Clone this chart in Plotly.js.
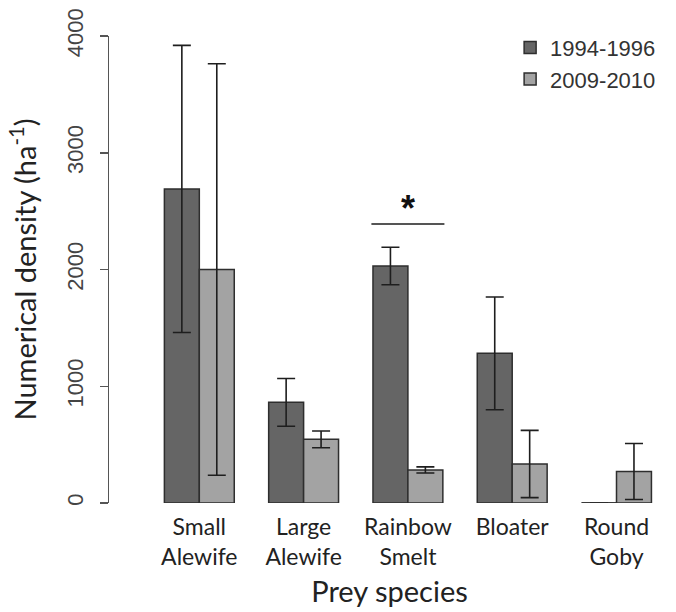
<!DOCTYPE html>
<html>
<head>
<meta charset="utf-8">
<script src="https://cdn.plot.ly/plotly-3.0.1.min.js"></script>
<style>html,body{margin:0;padding:0;background:#fff;}#chart{width:676px;height:612px;}</style>
</head>
<body>
<div id="chart"></div>
<script>
// ---- data ----
const categories = ["Small<br>Alewife", "Large<br>Alewife", "Rainbow<br>Smelt", "Bloater", "Round<br>Goby"];
const seriesNames = ["1994-1996", "2009-2010"];
const early = [2690, 862, 2030, 1282, 0];
const earlyErr = [1230, 205, 160, 483, 0];
const late = [2000, 545, 283, 334, 270];
const lateErr = [1762, 72, 26, 288, 240];
const yTicks = [0, 1000, 2000, 3000, 4000];
const sigCategory = 2;      // Rainbow Smelt
const sigLineY = 2390;
const sigStarY = 2520;
const sigLabel = "*";

// ---- styles ----
const bargap = 0.33;
const barHalf = (1 - bargap) / 2;
const darkFill = "#656565";
const lightFill = "#a3a3a3";
const outline = "#2e2e2e";

const errStyle = (arr) => ({type: "data", array: arr, visible: true, color: "#1e1e1e", thickness: 1.6, width: 9});

const traces = [
  {type: "bar", name: seriesNames[0], x: categories, y: early, error_y: errStyle(earlyErr),
   marker: {color: darkFill, line: {color: outline, width: 1.5}}},
  {type: "bar", name: seriesNames[1], x: categories, y: late, error_y: errStyle(lateErr),
   marker: {color: lightFill, line: {color: outline, width: 1.5}}}
];

const shapes = [];
// zero-height bars drawn as a baseline segment
early.forEach((v, i) => { if (v === 0) shapes.push({type: "line", xref: "x", yref: "y", x0: i - barHalf, x1: i, y0: v, y1: v, line: {color: outline, width: 1.5}}); });
late.forEach((v, i) => { if (v === 0) shapes.push({type: "line", xref: "x", yref: "y", x0: i, x1: i + barHalf, y0: v, y1: v, line: {color: outline, width: 1.5}}); });
// significance line
shapes.push({type: "line", xref: "x", yref: "y", x0: sigCategory - barHalf - 0.015, x1: sigCategory + barHalf + 0.015,
  y0: sigLineY, y1: sigLineY, line: {color: "#555", width: 2}});

const layout = {
  width: 676, height: 612,
  margin: {l: 109, r: 6, t: 36, b: 109},
  paper_bgcolor: "#fff", plot_bgcolor: "#fff",
  barmode: "group", bargap: bargap, bargroupgap: 0,
  showlegend: true,
  legend: {x: 0.715, xanchor: "left", y: 1.02, yanchor: "top", bgcolor: "rgba(0,0,0,0)",
           font: {family: "Liberation Sans, Arial, sans-serif", size: 22, color: "#333"},
           tracegroupgap: 0, itemwidth: 30},
  xaxis: {
    type: "category", range: [-0.866, 4.513], showline: false, showgrid: false, zeroline: false,
    ticks: "", ticklabelstandoff: 8, tickfont: {family: "Lato, sans-serif", size: 23, color: "#222"},
    title: {text: "Prey species", font: {family: "Lato, sans-serif", size: 29, color: "#222"}, standoff: 12},
    automargin: false
  },
  yaxis: {
    range: [0, 4000], tickvals: yTicks, ticktext: yTicks.map(String), showline: true, linecolor: "#555", linewidth: 1.5,
    ticks: "outside", ticklen: 8, tickcolor: "#555", tickwidth: 1.5, tickangle: -90, ticklabelstandoff: 8,
    showgrid: false, zeroline: false,
    tickfont: {family: "Liberation Sans, Arial, sans-serif", size: 22, color: "#444"},
    title: {text: "Numerical density (ha<sup>-1</sup>)", font: {family: "Lato, sans-serif", size: 29, color: "#222"}, standoff: 17},
    automargin: false
  },
  shapes: shapes,
  annotations: [{xref: "x", yref: "y", x: sigCategory, y: sigStarY, text: sigLabel, showarrow: false,
    font: {family: "Liberation Sans, Arial, sans-serif", size: 36, color: "#111", weight: "bold"}, yanchor: "middle"}]
};

Plotly.newPlot("chart", traces, layout, {displayModeBar: false, staticPlot: true});
</script>
</body>
</html>
